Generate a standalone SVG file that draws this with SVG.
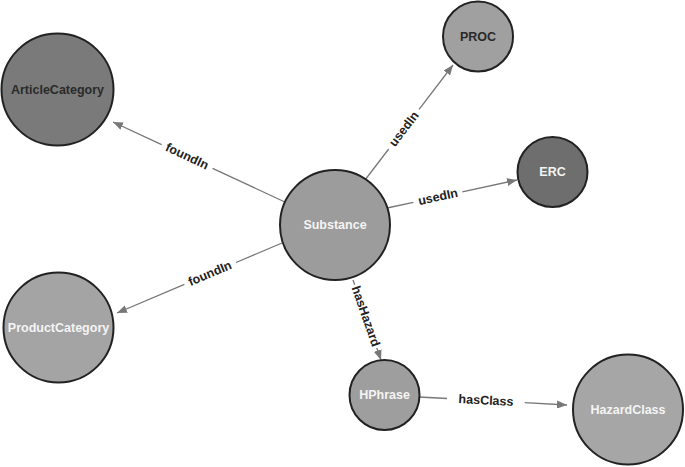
<svg xmlns="http://www.w3.org/2000/svg" width="685" height="467" viewBox="0 0 685 467">
<defs>
<marker id="arr" viewBox="0 -4 10 8" refX="10" refY="0" markerWidth="10" markerHeight="8" markerUnits="userSpaceOnUse" orient="auto">
<path d="M0,-4 L10,0 L0,4 z" fill="#777"/>
</marker>
<style>
.node circle{stroke:#222;stroke-width:2}
.nl{font-family:"Liberation Sans",Arial,sans-serif;font-weight:bold;font-size:12.5px;text-anchor:middle;dominant-baseline:central}
.light{fill:#f4f4f4}
.dark{fill:#2a2a2a}
.edge line{stroke:#777;stroke-width:1.3;fill:none}
.el{font-family:"Liberation Sans",Arial,sans-serif;font-weight:bold;font-size:12.5px;fill:#222;text-anchor:middle;dominant-baseline:central}
</style>
</defs>
<rect width="685" height="467" fill="#fff"/>
<g id="connectors">
<g class="edge" id="e-article">
<line x1="287" y1="203" x2="212.6" y2="168.4"/>
<line x1="161.6" y1="144.6" x2="113" y2="122" marker-end="url(#arr)"/>
<text class="el" transform="translate(187,156.4) rotate(24.96)">foundIn</text>
</g>
<g class="edge" id="e-product">
<line x1="282" y1="243" x2="236" y2="262.5"/>
<line x1="184.4" y1="284.4" x2="117" y2="313" marker-end="url(#arr)"/>
<text class="el" transform="translate(210,273.5) rotate(-22.99)">foundIn</text>
</g>
<g class="edge" id="e-proc">
<line x1="365" y1="180" x2="388.7" y2="149"/>
<line x1="419.1" y1="109.3" x2="453" y2="65" marker-end="url(#arr)"/>
<text class="el" transform="translate(404,129) rotate(-52.58)">usedIn</text>
</g>
<g class="edge" id="e-erc">
<line x1="387" y1="208" x2="413.4" y2="202.3"/>
<line x1="462.3" y1="191.8" x2="517" y2="180" marker-end="url(#arr)"/>
<text class="el" transform="translate(438,197) rotate(-12.15)">usedIn</text>
</g>
<g class="edge" id="e-hazard">
<line x1="353" y1="280" x2="354.7" y2="284.7"/>
<line x1="376.8" y1="348" x2="381" y2="360" marker-end="url(#arr)"/>
<text class="el" transform="translate(365.7,316.3) rotate(70.7)">hasHazard</text>
</g>
<g class="edge" id="e-class">
<line x1="419" y1="397" x2="447" y2="398.5"/>
<line x1="524.8" y1="402.7" x2="567" y2="405" marker-end="url(#arr)"/>
<text class="el" transform="translate(486,400.5) rotate(3.1)">hasClass</text>
</g>
</g>
<g id="n-article" class="node">
<circle cx="57.5" cy="89.5" r="56" fill="#7a7a7a"/>
<text class="nl dark" x="57.5" y="90">ArticleCategory</text>
</g>
<g id="n-substance" class="node">
<circle cx="335" cy="225" r="55" fill="#9c9c9c"/>
<text class="nl light" x="335" y="225">Substance</text>
</g>
<g id="n-proc" class="node">
<circle cx="478" cy="36.5" r="35" fill="#a0a0a0"/>
<text class="nl dark" x="478" y="36.5">PROC</text>
</g>
<g id="n-erc" class="node">
<circle cx="552.5" cy="172" r="35" fill="#6e6e6e"/>
<text class="nl light" x="552.5" y="172">ERC</text>
</g>
<g id="n-product" class="node">
<circle cx="58.5" cy="327.5" r="55" fill="#a4a4a4"/>
<text class="nl light" x="58.5" y="327.5">ProductCategory</text>
</g>
<g id="n-hphrase" class="node">
<circle cx="384.5" cy="395" r="35" fill="#9e9e9e"/>
<text class="nl light" x="384.5" y="395">HPhrase</text>
</g>
<g id="n-hazardclass" class="node">
<circle cx="628" cy="409.5" r="55" fill="#a6a6a6"/>
<text class="nl light" x="628" y="409.5">HazardClass</text>
</g>
</svg>
